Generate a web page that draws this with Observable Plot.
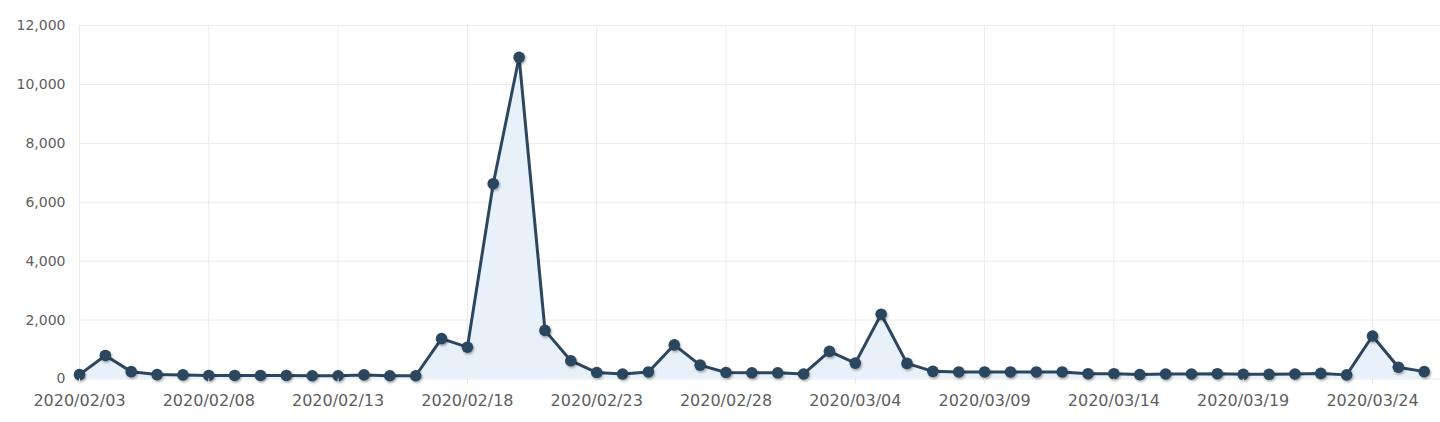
<!DOCTYPE html>
<html>
<head>
<meta charset="utf-8">
<script src="https://cdn.jsdelivr.net/npm/d3@7"></script>
<script src="https://cdn.jsdelivr.net/npm/@observablehq/plot@0.6"></script>
<style>
  html, body { margin: 0; padding: 0; background: #fff; }
  #chart { width: 1440px; height: 422px; }
</style>
</head>
<body>
<div id="chart"></div>
<script>
const dates = [
  "2020-02-03","2020-02-04","2020-02-05","2020-02-06","2020-02-07","2020-02-08","2020-02-09",
  "2020-02-10","2020-02-11","2020-02-12","2020-02-13","2020-02-14","2020-02-15","2020-02-16",
  "2020-02-17","2020-02-18","2020-02-19","2020-02-20","2020-02-21","2020-02-22","2020-02-23",
  "2020-02-24","2020-02-25","2020-02-26","2020-02-27","2020-02-28","2020-02-29",
  "2020-03-01","2020-03-02","2020-03-03","2020-03-04","2020-03-05","2020-03-06","2020-03-07",
  "2020-03-08","2020-03-09","2020-03-10","2020-03-11","2020-03-12","2020-03-13","2020-03-14",
  "2020-03-15","2020-03-16","2020-03-17","2020-03-18","2020-03-19","2020-03-20","2020-03-21",
  "2020-03-22","2020-03-23","2020-03-24","2020-03-25","2020-03-26"
];
const values = [
  150, 800, 250, 150, 140, 120, 120,
  120, 120, 110, 110, 140, 110, 110,
  1370, 1080, 6630, 10920, 1650, 620, 220,
  170, 240, 1160, 470, 220, 210,
  210, 170, 940, 540, 2200, 530, 260,
  240, 240, 240, 240, 240, 180, 180,
  150, 170, 170, 180, 160, 160, 170,
  190, 140, 1460, 400, 250
];
const xTickLabels = [
  "2020/02/03","2020/02/08","2020/02/13","2020/02/18","2020/02/23","2020/02/28",
  "2020/03/04","2020/03/09","2020/03/14","2020/03/19","2020/03/24"
];
const yTicks = [0, 2000, 4000, 6000, 8000, 10000, 12000];

const parse = d3.utcParse("%Y-%m-%d");
const parseTick = d3.utcParse("%Y/%m/%d");
const data = dates.map((d, i) => ({date: parse(d), value: values[i]}));
const xTicks = xTickLabels.map(parseTick);
const xStart = data[0].date;
const xEnd = new Date(data[data.length - 1].date.getTime() + 0.63 * 864e5);

const lineColor = "#2b465e";

const chart = Plot.plot({
  width: 1440,
  height: 422,
  marginLeft: 79,
  marginRight: 0,
  marginTop: 25,
  marginBottom: 43.5,
  style: {fontFamily: "'DejaVu Sans', Verdana, sans-serif", color: "#5e5e5e", background: "#fff"},
  x: {type: "utc", domain: [xStart, xEnd]},
  y: {domain: [0, 12000]},
  marks: [
    Plot.gridY(yTicks, {stroke: "#ebebeb", strokeOpacity: 1, strokeWidth: 1}),
    Plot.gridX(xTicks, {stroke: "#ebebeb", strokeOpacity: 1, strokeWidth: 1}),
    Plot.areaY(data, {x: "date", y: "value", fill: "#e8f1fa", fillOpacity: 1}),
    Plot.lineY(data, {x: "date", y: "value", stroke: lineColor, strokeWidth: 3}),
    Plot.dot(data, {x: "date", y: "value", r: 5.8, fill: lineColor, stroke: "none"}),
    Plot.axisY(yTicks, {
      tickSize: 0, tickPadding: 14, fontSize: 14, tickFormat: d3.format(","),
      fill: "#5e5e5e", label: null
    }),
    Plot.axisX(xTicks, {
      tickSize: 5, tickPadding: 11, fontSize: 16, stroke: "#e6e6e6",
      tickFormat: d3.utcFormat("%Y/%m/%d"), fill: "#5e5e5e", label: null
    })
  ]
});

// soft drop shadow on the dots, as in the reference
const svg = chart;
const ns = "http://www.w3.org/2000/svg";
const defs = document.createElementNS(ns, "defs");
defs.innerHTML = `<filter id="dotShadow" x="-50%" y="-50%" width="200%" height="200%">
  <feDropShadow dx="1" dy="1.5" stdDeviation="1.2" flood-color="#000" flood-opacity="0.35"/>
</filter>`;
svg.insertBefore(defs, svg.firstChild);
const dotGroup = svg.querySelector('g[aria-label="dot"]');
if (dotGroup) dotGroup.setAttribute("filter", "url(#dotShadow)");

document.getElementById("chart").appendChild(chart);
</script>
</body>
</html>
